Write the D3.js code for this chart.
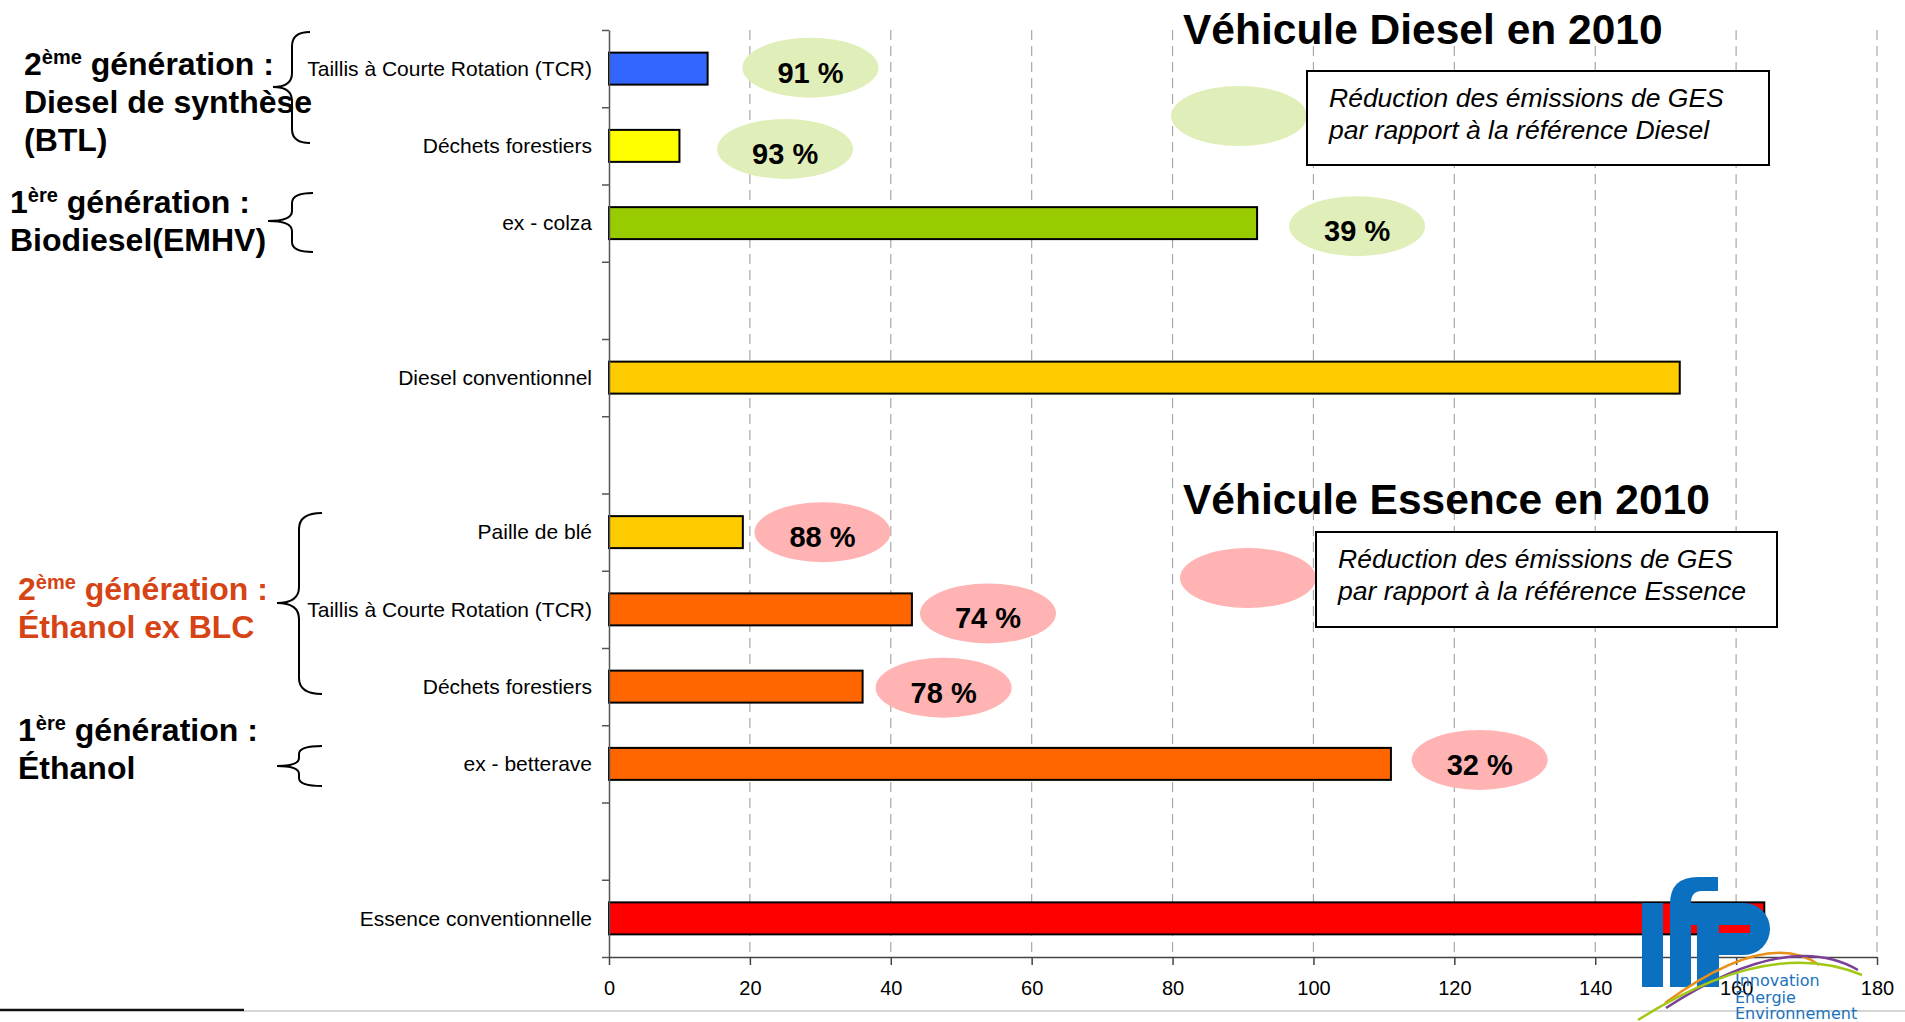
<!DOCTYPE html>
<html>
<head>
<meta charset="utf-8">
<script src="https://cdn.jsdelivr.net/npm/d3@7"></script>
<style>
  body { margin: 0; background: #fff; }
  svg { display: block; font-family: "Liberation Sans", Arial, sans-serif; }
</style>
</head>
<body>
<div id="chart"></div>
<script>
// ---- data ----
const categories = [
  "Taillis à Courte Rotation (TCR)",
  "Déchets forestiers",
  "ex - colza",
  "",
  "Diesel conventionnel",
  "",
  "Paille de blé",
  "Taillis à Courte Rotation (TCR)",
  "Déchets forestiers",
  "ex - betterave",
  "",
  "Essence conventionnelle"
];
const values = [14, 10, 92, null, 152, null, 19, 43, 36, 111, null, 164];
const reductions = [91, 93, 39, null, null, null, 88, 74, 78, 32, null, null];
const xTicks = [0, 20, 40, 60, 80, 100, 120, 140, 160, 180];
const titles = ["Véhicule Diesel en 2010", "Véhicule Essence en 2010"];
const legendText = [
  ["Réduction des émissions de GES", "par rapport à la référence Diesel"],
  ["Réduction des émissions de GES", "par rapport à la référence Essence"]
];
const groupNum = ["2", "1", "2", "1"];
const groupSup = ["ème", "ère", "ème", "ère"];
const groupRest = [" génération :", " génération :", " génération :", " génération :"];
const groupLines = [["Diesel de synthèse", "(BTL)"], ["Biodiesel(EMHV)"], ["Éthanol ex BLC"], ["Éthanol"]];

// ---- styling / layout ----
const barColors = ["#3366ff", "#ffff00", "#99cc00", null, "#ffcc00", null,
                   "#ffcc00", "#ff6600", "#ff6600", "#ff6600", null, "#ff0000"];
const bubbleAt = [28.6, 25, 106.2, null, null, null, 30.3, 53.8, 47.5, 123.6, null, null];
const bubbleDy = [-1, 3, 3, 0, 0, 0, 0, 4, 1, -4, 0, 0];
const green = "#e0efb9", pink = "#ffb3b3";

const width = 1905, height = 1022;
const svg = d3.select("#chart").append("svg")
  .attr("width", width)
  .attr("height", height);

const x = d3.scaleLinear().domain([0, 180]).range([609, 1877]);
const y = d3.scaleBand()
  .domain(d3.range(categories.length))
  .range([30, 957])
  .paddingInner(0.586)
  .paddingOuter(0.293);
const yEdge = d3.scaleLinear().domain([0, categories.length]).range([30, 957]);

// dashed vertical grid
svg.append("g")
  .selectAll("line")
  .data(xTicks.filter(d => d > 0))
  .join("line")
  .attr("x1", d => x(d)).attr("x2", d => x(d))
  .attr("y1", 30).attr("y2", 957)
  .attr("stroke", "#a8a8a8")
  .attr("stroke-width", 1.2)
  .attr("stroke-dasharray", "10,6");

// bars
svg.append("g")
  .selectAll("rect")
  .data(values.map((v, i) => ({ v, i })).filter(d => d.v != null))
  .join("rect")
  .attr("x", x(0))
  .attr("y", d => y(d.i))
  .attr("width", d => x(d.v) - x(0))
  .attr("height", y.bandwidth())
  .attr("fill", d => barColors[d.i])
  .attr("stroke", "#000")
  .attr("stroke-width", 2);

// x axis
const xAxisG = svg.append("g")
  .attr("transform", `translate(0,${yEdge.range()[1]})`)
  .call(d3.axisBottom(x).tickValues(xTicks).tickSize(8).tickSizeOuter(0).tickPadding(16));
xAxisG.attr("font-family", null).attr("font-size", 20);
xAxisG.selectAll("text").attr("fill", "#000");
xAxisG.selectAll("path, line").attr("stroke", "#444").attr("stroke-width", 1.5);

// y axis (ticks between categories)
const yAxisG = svg.append("g")
  .attr("transform", `translate(${x(0)},0)`)
  .call(d3.axisLeft(yEdge).tickValues(d3.range(categories.length + 1)).tickSize(7).tickSizeOuter(0).tickFormat(""));
yAxisG.selectAll("path, line").attr("stroke", "#555").attr("stroke-width", 1.5);

// category labels
svg.append("g")
  .selectAll("text")
  .data(categories)
  .join("text")
  .attr("x", x(0) - 17)
  .attr("y", (d, i) => y(i) + y.bandwidth() / 2)
  .attr("dy", "0.35em")
  .attr("text-anchor", "end")
  .attr("font-size", 21)
  .text(d => d);

// reduction bubbles
const bub = svg.append("g")
  .selectAll("g")
  .data(reductions.map((r, i) => ({ r, i })).filter(d => d.r != null))
  .join("g")
  .attr("transform", d => `translate(${x(bubbleAt[d.i])},${y(d.i) + y.bandwidth() / 2 + bubbleDy[d.i]})`);
bub.append("ellipse")
  .attr("rx", 68).attr("ry", 30)
  .attr("fill", d => d.i < 6 ? green : pink);
bub.append("text")
  .attr("y", 15)
  .attr("text-anchor", "middle")
  .attr("font-size", 29)
  .attr("font-weight", "bold")
  .text(d => d.r + " %");

// titles
const titleY = [44, 514];
svg.append("g")
  .selectAll("text")
  .data(titles)
  .join("text")
  .attr("x", 1183)
  .attr("y", (d, i) => titleY[i])
  .attr("font-size", 42.5)
  .attr("font-weight", "bold")
  .text(d => d);

// legend boxes
const legendPos = [
  { bx: 1307, by: 71, bw: 462, bh: 94, ex: 1239, ey: 116, fill: green },
  { bx: 1316, by: 532, bw: 461, bh: 95, ex: 1248, ey: 578, fill: pink }
];
const leg = svg.append("g")
  .selectAll("g")
  .data(legendText)
  .join("g");
leg.append("ellipse")
  .attr("cx", (d, i) => legendPos[i].ex)
  .attr("cy", (d, i) => legendPos[i].ey)
  .attr("rx", 68).attr("ry", 30)
  .attr("fill", (d, i) => legendPos[i].fill);
leg.append("rect")
  .attr("x", (d, i) => legendPos[i].bx)
  .attr("y", (d, i) => legendPos[i].by)
  .attr("width", (d, i) => legendPos[i].bw)
  .attr("height", (d, i) => legendPos[i].bh)
  .attr("fill", "#fff")
  .attr("stroke", "#000")
  .attr("stroke-width", 2);
leg.each(function (lines, i) {
  d3.select(this).selectAll("text.l")
    .data(lines)
    .join("text")
    .attr("class", "l")
    .attr("x", legendPos[i].bx + 22)
    .attr("y", (d, j) => legendPos[i].by + 36 + j * 32)
    .attr("font-size", 26.5)
    .attr("font-style", "italic")
    .text(d => d);
});

// group labels on the left
const groupPos = [
  { x: 24, y: 75, color: "#000" },
  { x: 10, y: 213, color: "#000" },
  { x: 18, y: 600, color: "#d64314" },
  { x: 18, y: 741, color: "#000" }
];
groupNum.forEach((n, i) => {
  const p = groupPos[i];
  const t = svg.append("text")
    .attr("x", p.x).attr("y", p.y)
    .attr("font-size", 32)
    .attr("font-weight", "bold")
    .attr("fill", p.color);
  t.append("tspan").text(n);
  t.append("tspan").attr("font-size", 20).attr("dy", -11).text(groupSup[i]);
  t.append("tspan").attr("dy", 11).style("white-space", "pre").text(groupRest[i]);
  groupLines[i].forEach((l, j) => {
    svg.append("text")
      .attr("x", p.x).attr("y", p.y + 38 * (j + 1))
      .attr("font-size", 32)
      .attr("font-weight", "bold")
      .attr("fill", p.color)
      .text(l);
  });
});

// braces
const braces = [
  { xe: 310, xs: 292, xt: 273, y0: 32, yt: 87, y1: 143, r: 14 },
  { xe: 313, xs: 292, xt: 268, y0: 193, yt: 221, y1: 252, r: 10 },
  { xe: 322, xs: 299, xt: 277, y0: 513, yt: 603, y1: 694, r: 16 },
  { xe: 322, xs: 299, xt: 277, y0: 746, yt: 766, y1: 786, r: 8 }
];
svg.append("g")
  .selectAll("path")
  .data(braces)
  .join("path")
  .attr("d", b => `M${b.xe},${b.y0} Q${b.xs},${b.y0} ${b.xs},${b.y0 + b.r}
    L${b.xs},${b.yt - b.r} Q${b.xs},${b.yt} ${b.xt},${b.yt}
    Q${b.xs},${b.yt} ${b.xs},${b.yt + b.r}
    L${b.xs},${b.y1 - b.r} Q${b.xs},${b.y1} ${b.xe},${b.y1}`)
  .attr("fill", "none")
  .attr("stroke", "#000")
  .attr("stroke-width", 2);

// bottom rule
svg.append("line").attr("x1", 244).attr("x2", width).attr("y1", 1011).attr("y2", 1011)
  .attr("stroke", "#c8c8c8").attr("stroke-width", 1.5);
svg.append("line").attr("x1", 0).attr("x2", 244).attr("y1", 1010).attr("y2", 1010)
  .attr("stroke", "#111").attr("stroke-width", 2.5);

// ifp logo
const logo = svg.append("g");
const blue = "#0a70bf";
logo.append("rect").attr("x", 1642).attr("y", 903).attr("width", 21).attr("height", 84).attr("fill", blue);
logo.append("path")
  .attr("d", "M1670,987 L1670,904 Q1670,877 1698,877 L1718,877 L1718,891 L1702,891 Q1691,891 1691,903 L1697,903 L1697,925 L1691,925 L1691,987 Z")
  .attr("fill", blue);
logo.append("path")
  .attr("fill-rule", "evenodd")
  .attr("d", "M1697,903 L1744,903 A26,26 0 0 1 1744,955 L1719,955 L1719,987 L1697,987 Z M1719,925 L1750,925 L1750,933 L1719,933 Z")
  .attr("fill", blue);
const arcs = [
  { d: "M1665,1003 Q1768,928 1819,965", c: "#e8901a" },
  { d: "M1666,1008 Q1788,929 1858,970", c: "#7b3f98" },
  { d: "M1638,1020 Q1770,936 1862,975", c: "#a0c814" }
];
logo.selectAll("path.arc").data(arcs).join("path")
  .attr("class", "arc")
  .attr("d", d => d.d)
  .attr("fill", "none")
  .attr("stroke", d => d.c)
  .attr("stroke-width", 2.5);
logo.selectAll("text").data(["Innovation", "Energie", "Environnement"]).join("text")
  .attr("x", 1735)
  .attr("y", (d, i) => 986 + i * 16.5)
  .attr("font-family", "DejaVu Sans")
  .attr("font-size", 16)
  .attr("fill", "#1a72bd")
  .text(d => d);
</script>
</body>
</html>
